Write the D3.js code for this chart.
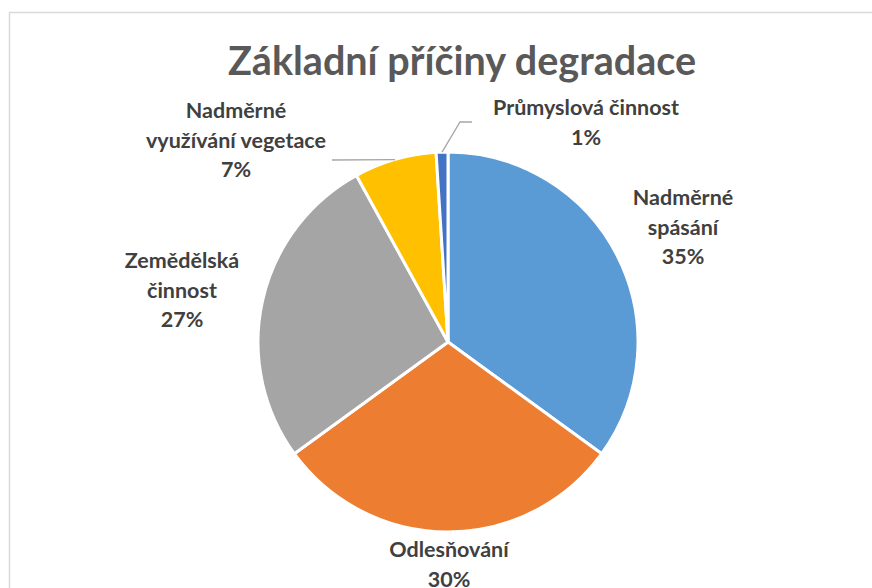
<!DOCTYPE html>
<html>
<head>
<meta charset="utf-8">
<script src="https://cdn.jsdelivr.net/npm/d3@7/dist/d3.min.js"></script>
<style>
  html, body { margin: 0; padding: 0; background: #fff; }
  svg { display: block; }
</style>
</head>
<body>
<svg id="chart" width="872" height="588"></svg>
<script>
// ---- data ----
const title = "Základní příčiny degradace";
const categories = ["Nadměrné spásání", "Odlesňování", "Zemědělská činnost", "Nadměrné využívání vegetace", "Průmyslová činnost"];
const values = [35, 30, 27, 7, 1];
const labelLines = [
  ["Nadměrné", "spásání"],
  ["Odlesňování"],
  ["Zemědělská", "činnost"],
  ["Nadměrné", "využívání vegetace"],
  ["Průmyslová činnost"]
];
const colors = ["#5B9BD5", "#ED7D31", "#A5A5A5", "#FFC000", "#4472C4"];

// ---- layout (positions / styling only) ----
const cx = 448, cy = 342, radius = 190;
const labelLayout = [
  { x: 683, y: 205 },
  { x: 449, y: 557 },
  { x: 182, y: 268 },
  { x: 236, y: 118 },
  { x: 586, y: 115 }
];
const leaderEnds = [null, null, null, [[332, 160]], [[460, 122], [472, 122]]];
const lineH = 29.5;

const svg = d3.select("#chart");
svg.append("rect").attr("x", 0).attr("y", 0).attr("width", 872).attr("height", 588).attr("fill", "#fff");
svg.append("rect").attr("x", 9.5).attr("y", 12.5).attr("width", 900).attr("height", 620)
  .attr("fill", "none").attr("stroke", "#d9d9d9").attr("stroke-width", 1.5);

svg.append("text").attr("x", 462).attr("y", 75).attr("text-anchor", "middle")
  .attr("font-family", "Lato, 'Open Sans', sans-serif").attr("font-weight", 700)
  .attr("font-size", 41).attr("fill", "#595959")
  .attr("textLength", 468).attr("lengthAdjust", "spacingAndGlyphs")
  .text(title);

const data = categories.map((c, i) => ({ cat: c, value: values[i], lines: labelLines[i], color: colors[i], i }));
const pie = d3.pie().value(d => d.value).sort(null);
const arcs = pie(data);
const arc = d3.arc().innerRadius(0).outerRadius(radius);

const g = svg.append("g").attr("transform", `translate(${cx},${cy})`);
g.selectAll("path").data(arcs).join("path")
  .attr("d", arc).attr("fill", d => d.data.color)
  .attr("stroke", "#fff").attr("stroke-width", 3).attr("stroke-linejoin", "round");

// leader lines
arcs.forEach((a, i) => {
  if (!leaderEnds[i]) return;
  const mid = (a.startAngle + a.endAngle) / 2;
  const sx = cx + radius * Math.sin(mid), sy = cy - radius * Math.cos(mid);
  const pts = [[sx, sy]].concat(leaderEnds[i]);
  svg.append("path").attr("d", d3.line()(pts)).attr("fill", "none")
    .attr("stroke", "#a6a6a6").attr("stroke-width", 1.3);
});

// labels
const total = d3.sum(values);
arcs.forEach((a, i) => {
  const L = labelLayout[i];
  const lines = a.data.lines.concat([d3.format(".0%")(a.data.value / total)]);
  const txt = svg.append("text").attr("text-anchor", "middle")
    .attr("font-family", "Lato, 'Open Sans', sans-serif").attr("font-weight", 700)
    .attr("font-size", 21.5).attr("fill", "#404040");
  lines.forEach((s, k) => {
    txt.append("tspan").attr("x", L.x).attr("y", L.y + k * lineH).text(s);
  });
});
</script>
</body>
</html>
